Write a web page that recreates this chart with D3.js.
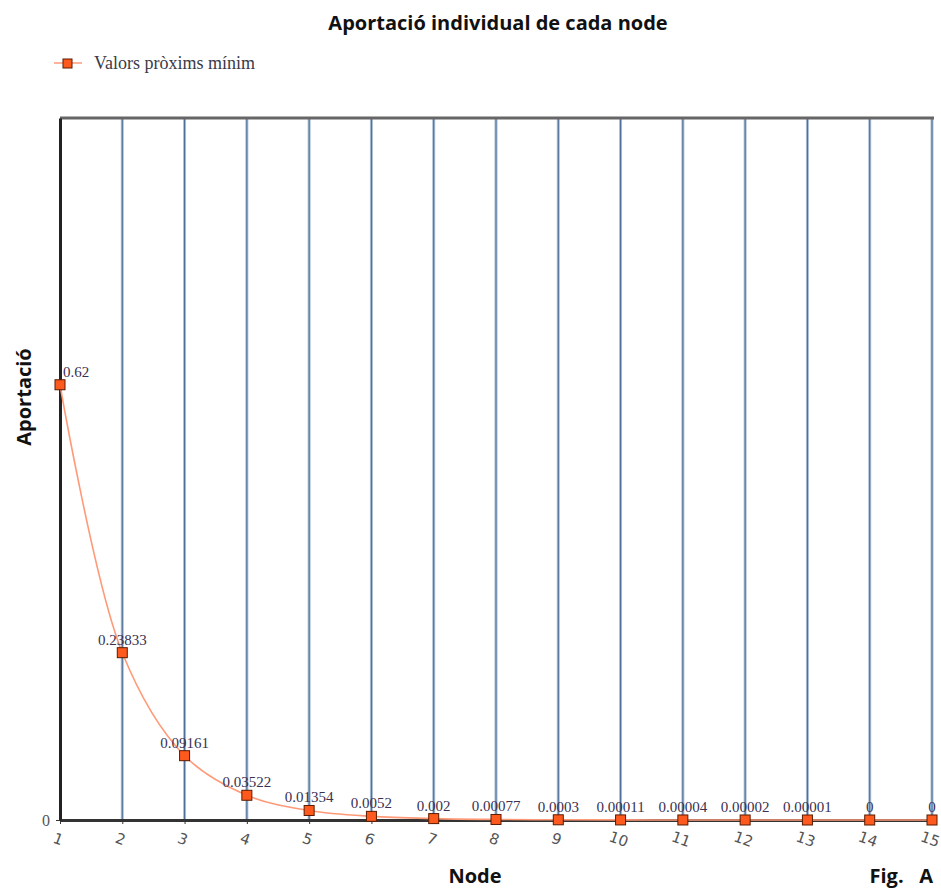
<!DOCTYPE html>
<html>
<head>
<meta charset="utf-8">
<script src="https://cdn.jsdelivr.net/npm/d3@7"></script>
<style>
  body { margin: 0; background: #fff; }
  svg { display: block; }
</style>
</head>
<body>
<svg id="chart" width="941" height="888"></svg>
<script>
// Individual contribution of each node
const nodes = [1, 2, 3, 4, 5, 6, 7, 8, 9, 10, 11, 12, 13, 14, 15];
const values = [0.62, 0.23833, 0.09161, 0.03522, 0.01354, 0.0052, 0.002, 0.00077, 0.0003, 0.00011, 0.00004, 0.00002, 0.00001, 0, 0];
const valueLabels = ["0.62", "0.23833", "0.09161", "0.03522", "0.01354", "0.0052", "0.002", "0.00077", "0.0003", "0.00011", "0.00004", "0.00002", "0.00001", "0", "0"];
const yTicks = [0];
const seriesName = "Valors pròxims mínim";

const svg = d3.select("#chart");
const plotLeft = 60, plotRight = 932, plotTop = 118, plotBottom = 820;

const x = d3.scaleLinear().domain([1, 15]).range([plotLeft, plotRight]);
const y = d3.scaleLinear().domain([0, 1]).range([plotBottom, plotTop]);

const boldFont = "'Open Sans', sans-serif";

// Title
svg.append("text")
  .attr("x", 498).attr("y", 30)
  .attr("text-anchor", "middle")
  .style("font-family", boldFont)
  .style("font-weight", "bold")
  .style("font-size", "20px")
  .attr("fill", "#111")
  .text("Aportació individual de cada node");

// Legend
const lg = svg.append("g");
lg.append("line").attr("x1", 54).attr("x2", 82).attr("y1", 63).attr("y2", 63)
  .attr("stroke", "#ff9a78").attr("stroke-width", 1.5);
lg.append("rect").attr("x", 63).attr("y", 59).attr("width", 9).attr("height", 9)
  .attr("fill", "#ff5a1e").attr("stroke", "#5a1a00").attr("stroke-width", 1);
lg.append("text").attr("x", 94).attr("y", 69)
  .style("font-family", "'Liberation Serif', serif")
  .style("font-size", "18px")
  .attr("fill", "#3a3a48")
  .text(seriesName);

// Vertical gridlines at every node
const grid = svg.append("g");
grid.selectAll("line.halo").data(nodes.slice(1)).join("line")
  .attr("class", "halo")
  .attr("x1", d => x(d)).attr("x2", d => x(d))
  .attr("y1", plotTop).attr("y2", plotBottom)
  .attr("stroke", "#a9bdd4").attr("stroke-width", 3);
grid.selectAll("line.core").data(nodes.slice(1)).join("line")
  .attr("class", "core")
  .attr("x1", d => x(d)).attr("x2", d => x(d))
  .attr("y1", plotTop).attr("y2", plotBottom)
  .attr("stroke", "#4a6a94").attr("stroke-width", 1);

// Top frame
svg.append("line").attr("x1", plotLeft).attr("x2", plotRight + 2).attr("y1", plotTop).attr("y2", plotTop)
  .attr("stroke", "#666").attr("stroke-width", 3);

// X axis
const xAxis = svg.append("g").attr("transform", `translate(0,${plotBottom})`)
  .call(d3.axisBottom(x).tickValues(nodes).tickFormat(d3.format("d")).tickSize(4).tickSizeOuter(0));
xAxis.select(".domain").attr("stroke", "#333").attr("stroke-width", 3);
xAxis.selectAll(".tick line").attr("stroke", "#333");
xAxis.selectAll(".tick text")
  .attr("y", 0).attr("dy", 0)
  .attr("transform", "translate(-4,24) rotate(20)")
  .attr("text-anchor", "middle")
  .style("font-family", "'DejaVu Sans', sans-serif")
  .style("font-size", "15px")
  .attr("fill", "#555");

// Y axis
const yAxis = svg.append("g").attr("transform", `translate(${plotLeft},0)`)
  .call(d3.axisLeft(y).tickValues(yTicks).tickFormat(d3.format("d")).tickSize(4).tickSizeOuter(0));
yAxis.select(".domain").attr("stroke", "#222").attr("stroke-width", 3);
yAxis.selectAll(".tick line").attr("stroke", "#333");
yAxis.selectAll(".tick text")
  .attr("x", -10)
  .style("font-family", "'Liberation Serif', serif")
  .style("font-size", "16px")
  .attr("fill", "#555");

// Axis titles
svg.append("text")
  .attr("transform", "translate(31,397) rotate(-90)")
  .attr("text-anchor", "middle")
  .style("font-family", boldFont)
  .style("font-weight", "bold").style("font-size", "20px")
  .attr("fill", "#111")
  .text("Aportació");
svg.append("text")
  .attr("x", 475).attr("y", 883)
  .attr("text-anchor", "middle")
  .style("font-family", boldFont)
  .style("font-weight", "bold").style("font-size", "20px")
  .attr("fill", "#111")
  .text("Node");
svg.append("text")
  .attr("x", 933).attr("y", 883)
  .attr("text-anchor", "end")
  .style("font-family", boldFont)
  .style("font-weight", "bold").style("font-size", "20px")
  .style("white-space", "pre")
  .attr("fill", "#111")
  .text("Fig.   A");

// Series line
const pts = nodes.map((n, i) => ({ n, v: values[i], label: valueLabels[i] }));
svg.append("path")
  .datum(pts)
  .attr("fill", "none")
  .attr("stroke", "#ff9a78")
  .attr("stroke-width", 1.6)
  .attr("d", d3.line().x(d => x(d.n)).y(d => y(d.v)).curve(d3.curveCatmullRom.alpha(0.5)));

// Markers
svg.selectAll("rect.pt").data(pts).join("rect")
  .attr("class", "pt")
  .attr("x", d => x(d.n) - 5).attr("y", d => y(d.v) - 5)
  .attr("width", 10).attr("height", 10)
  .attr("fill", "#ff5a1e").attr("stroke", "#5a1a00").attr("stroke-width", 1);

// Value labels
svg.selectAll("text.val").data(pts).join("text")
  .attr("class", "val")
  .attr("x", (d, i) => i === 0 ? x(d.n) + 3 : x(d.n))
  .attr("y", d => y(d.v) - 8)
  .attr("text-anchor", (d, i) => i === 0 ? "start" : "middle")
  .style("font-family", "'Liberation Serif', serif")
  .style("font-size", "15px")
  .attr("fill", "#3a3050")
  .text(d => d.label);
</script>
</body>
</html>
